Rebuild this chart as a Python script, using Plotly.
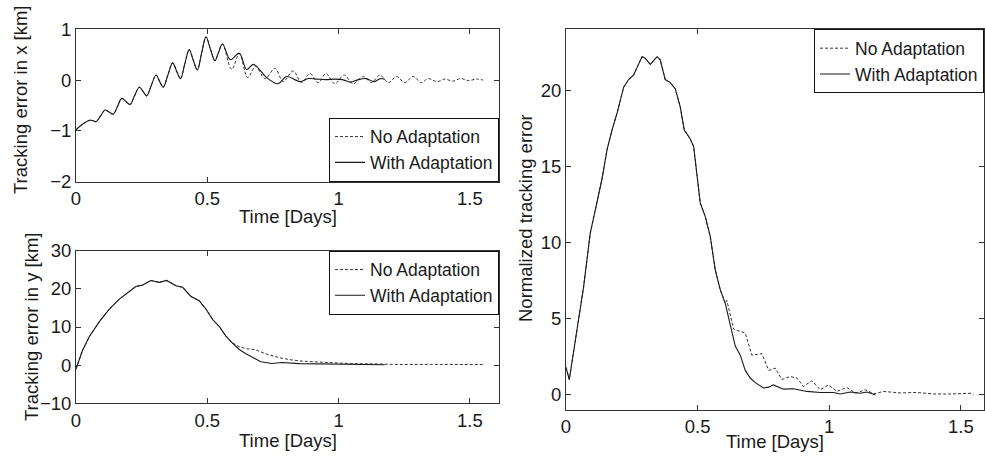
import plotly.graph_objects as go

# ---------------- data ----------------
# Top-left: tracking error in x [km]
x_common_t = [0.000, 0.027, 0.053, 0.065, 0.076, 0.093, 0.110, 0.126, 0.142, 0.158, 0.174, 0.190,
              0.206, 0.223, 0.241, 0.255, 0.269, 0.287, 0.305, 0.318, 0.332, 0.350, 0.368, 0.383,
              0.398, 0.414, 0.431, 0.446, 0.462, 0.478, 0.495, 0.512, 0.529, 0.543, 0.558]
x_common_err = [-0.98, -0.86, -0.79, -0.80, -0.82, -0.71, -0.59, -0.63, -0.67, -0.52, -0.36, -0.42,
                -0.48, -0.31, -0.14, -0.22, -0.31, -0.10, 0.10, -0.02, -0.14, 0.10, 0.34, 0.18,
                0.03, 0.31, 0.60, 0.40, 0.20, 0.52, 0.85, 0.61, 0.38, 0.55, 0.71]
x_with_t = [0.588, 0.622, 0.650, 0.676, 0.726, 0.770, 0.802, 0.853, 0.885, 0.916, 0.950, 0.985,
            1.015, 1.045, 1.075, 1.105, 1.135, 1.160, 1.176]
x_with_err = [0.40, 0.53, 0.21, 0.31, 0.05, -0.07, 0.07, -0.03, 0.03, 0.02, 0.01, 0.02,
              0.01, -0.04, 0.01, 0.03, -0.03, 0.03, 0.01]
x_no_t = [0.593, 0.622, 0.654, 0.684, 0.720, 0.758, 0.789, 0.827, 0.859, 0.891, 0.922, 0.952,
          0.985, 1.022, 1.055, 1.094, 1.125, 1.157, 1.190, 1.221, 1.252, 1.284, 1.315, 1.341,
          1.375, 1.405, 1.435, 1.465, 1.495, 1.525, 1.550]
x_no_err = [0.21, 0.52, 0.05, 0.27, 0.03, 0.23, -0.03, 0.18, -0.05, 0.13, -0.05, 0.13,
            -0.07, 0.10, -0.07, 0.07, -0.05, 0.10, -0.05, 0.07, -0.05, 0.07, -0.05, 0.03,
            -0.03, 0.02, -0.02, 0.03, -0.01, 0.02, 0.00]

# Bottom-left: tracking error in y [km]
y_common_t = [0.000, 0.025, 0.051, 0.089, 0.127, 0.165, 0.203, 0.228, 0.254, 0.285, 0.317, 0.345,
              0.381, 0.406, 0.438, 0.469, 0.495, 0.520, 0.546, 0.571, 0.596]
y_common_err = [-1.0, 3.9, 7.5, 11.4, 14.7, 17.3, 19.3, 20.6, 21.0, 22.2, 21.7, 22.2,
                20.8, 20.4, 18.0, 16.9, 14.7, 12.0, 10.1, 7.6, 5.8]
y_with_t = [0.622, 0.647, 0.673, 0.704, 0.745, 0.785, 0.85, 0.92, 1.00, 1.08, 1.176]
y_with_err = [4.1, 3.0, 2.1, 0.9, 0.45, 0.7, 0.4, 0.3, 0.25, 0.2, 0.1]
y_no_t = [0.622, 0.650, 0.680, 0.726, 0.777, 0.820, 0.853, 0.90, 0.98, 1.05, 1.15, 1.25, 1.35,
          1.45, 1.55]
y_no_err = [4.8, 4.3, 4.1, 2.9, 1.9, 1.4, 1.1, 0.9, 0.6, 0.4, 0.3, 0.15, 0.2, 0.1, 0.15]

# Right: normalized tracking error
n_common_t = [0.000, 0.0125, 0.042, 0.067, 0.092, 0.118, 0.137, 0.156, 0.175, 0.194, 0.219, 0.238,
              0.257, 0.270, 0.289, 0.301, 0.320, 0.346, 0.358, 0.377, 0.396, 0.415, 0.434, 0.449,
              0.472, 0.485, 0.497, 0.510, 0.529, 0.548, 0.567, 0.586, 0.605]
n_common_err = [1.8, 1.0, 4.3, 7.1, 10.6, 12.8, 14.2, 16.1, 17.4, 18.5, 20.2, 20.7,
                21.0, 21.5, 22.2, 22.1, 21.7, 22.2, 22.0, 20.7, 20.5, 20.1, 18.9, 17.4,
                16.8, 16.3, 14.3, 12.6, 11.7, 10.4, 8.2, 6.9, 6.0]
n_with_t = [0.624, 0.643, 0.662, 0.681, 0.700, 0.719, 0.750, 0.770, 0.788, 0.826, 0.864, 0.915,
            0.966, 1.016, 1.042, 1.080, 1.118, 1.143, 1.175]
n_with_err = [4.5, 3.2, 2.6, 1.6, 1.1, 0.8, 0.45, 0.5, 0.65, 0.37, 0.4, 0.22,
              0.15, 0.15, 0.05, 0.18, 0.1, 0.18, 0.0]
n_no_t = [0.611, 0.637, 0.662, 0.681, 0.706, 0.744, 0.770, 0.795, 0.820, 0.852, 0.877, 0.902,
          0.934, 0.966, 0.997, 1.029, 1.067, 1.100, 1.137, 1.170, 1.206, 1.270, 1.330, 1.400,
          1.460, 1.540, 1.548]
n_no_err = [6.2, 4.3, 4.15, 4.05, 2.6, 2.7, 1.6, 1.75, 1.0, 1.2, 1.1, 0.55,
            0.92, 0.33, 0.65, 0.22, 0.48, 0.1, 0.33, 0.06, 0.22, 0.12, 0.15, 0.05,
            0.05, 0.1, 0.0]

x_ticks = [0, 0.5, 1, 1.5]
x_tick_text = ["0", "0.5", "1", "1.5"]
names = ["No Adaptation", "With Adaptation"]

# ---------------- figure ----------------
W, H = 985, 458
FONT = "Liberation Sans, Arial, sans-serif"
FS = 18.5
LFS = 17.5
INK = "#1a1a1a"
AX = "#333333"

def px_x(p):
    return p / W

def px_y(p):
    return 1 - p / H

fig = go.Figure()

panels = [
    dict(xa="x", ya="y", leg="legend", shape="spline",
         common=(x_common_t, x_common_err), no=(x_no_t, x_no_err), w=(x_with_t, x_with_err)),
    dict(xa="x2", ya="y2", leg="legend2", shape="linear",
         common=(y_common_t, y_common_err), no=(y_no_t, y_no_err), w=(y_with_t, y_with_err)),
    dict(xa="x3", ya="y3", leg="legend3", shape="linear",
         common=(n_common_t, n_common_err), no=(n_no_t, n_no_err), w=(n_with_t, n_with_err)),
]

for p in panels:
    ct, ce = p["common"]
    fig.add_trace(go.Scatter(
        x=ct + p["no"][0], y=ce + p["no"][1], mode="lines", name=names[0],
        line=dict(color="#333333", width=1, dash="3px,2px", shape=p["shape"], smoothing=1.0),
        xaxis=p["xa"], yaxis=p["ya"], legend=p["leg"]))
    fig.add_trace(go.Scatter(
        x=ct + p["w"][0], y=ce + p["w"][1], mode="lines", name=names[1],
        line=dict(color=INK, width=1.1, shape=p["shape"], smoothing=1.0),
        xaxis=p["xa"], yaxis=p["ya"], legend=p["leg"]))

axis_common = dict(showline=True, linecolor=AX, linewidth=1, mirror="ticks", ticks="inside",
                   ticklen=5, tickcolor=AX, showgrid=False, zeroline=False, automargin=False,
                   tickfont=dict(family=FONT, size=FS, color=INK))

left_dom = [px_x(76), px_x(499)]
right_dom = [px_x(566), px_x(984)]

fig.update_layout(
    template="none",
    width=W, height=H, margin=dict(l=0, r=0, t=0, b=0, pad=0), autosize=False,
    paper_bgcolor="white", plot_bgcolor="white",
    font=dict(family=FONT, size=FS, color=INK),
    xaxis=dict(domain=left_dom, range=[0, 1.611], tickvals=x_ticks, ticktext=x_tick_text,
               anchor="y", **axis_common),
    yaxis=dict(domain=[px_y(181.7), px_y(29.3)], range=[-2, 1], tickvals=[-2, -1, 0, 1],
               anchor="x", **axis_common),
    xaxis2=dict(domain=left_dom, range=[0, 1.611], tickvals=x_ticks, ticktext=x_tick_text,
                anchor="y2", **axis_common),
    yaxis2=dict(domain=[px_y(403.3), px_y(250.7)], range=[-10, 30], tickvals=[-10, 0, 10, 20, 30],
                anchor="x2", **axis_common),
    xaxis3=dict(domain=right_dom, range=[0, 1.588], tickvals=x_ticks, ticktext=x_tick_text,
                anchor="y3", **axis_common),
    yaxis3=dict(domain=[px_y(410), px_y(29.3)], range=[-1, 24], tickvals=[0, 5, 10, 15, 20],
                anchor="x3", **axis_common),
)

leg_common = dict(bgcolor="white", bordercolor="#111111", borderwidth=1,
                  font=dict(family=FONT, size=LFS, color=INK), tracegroupgap=0,
                  itemwidth=30, xref="paper", yref="paper")
fig.update_layout(
    legend=dict(x=px_x(499), y=px_y(181.7), xanchor="right", yanchor="bottom", **leg_common),
    legend2=dict(x=px_x(499), y=px_y(250.7), xanchor="right", yanchor="top", **leg_common),
    legend3=dict(x=px_x(984), y=px_y(29.3), xanchor="right", yanchor="top", **leg_common),
)

# axis titles as annotations placed at measured positions
titles = [
    ("Time [Days]", px_x(287.5), px_y(216), 0),
    ("Time [Days]", px_x(287.5), px_y(440), 0),
    ("Time [Days]", px_x(775), px_y(441), 0),
    ("Tracking error in x [km]", px_x(20), px_y(100), -90),
    ("Tracking error in y [km]", px_x(31), px_y(327), -90),
    ("Normalized tracking error", px_x(525), px_y(218), -90),
]
for text, x, y, ang in titles:
    fig.add_annotation(text=text, x=x, y=y, xref="paper", yref="paper", showarrow=False,
                       textangle=ang, xanchor="center", yanchor="middle",
                       font=dict(family=FONT, size=FS, color=INK))

fig.write_html("out.html")
